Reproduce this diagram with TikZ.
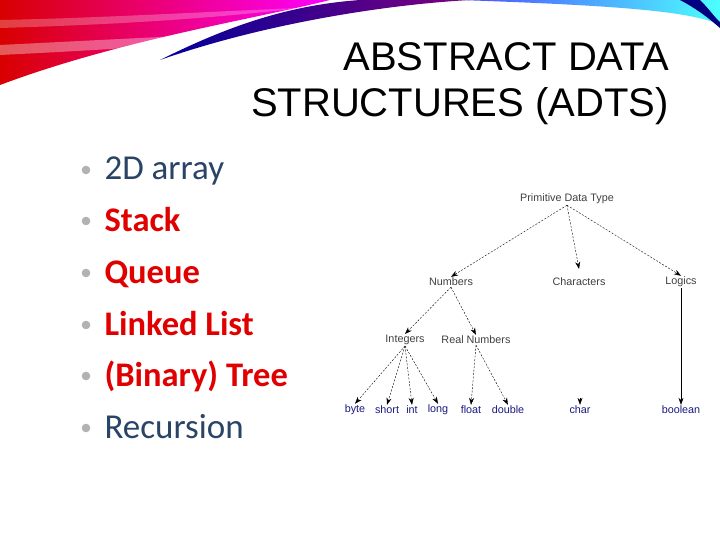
\documentclass[tikz,border=0pt]{standalone}
\usepackage{fontspec}
\setmainfont{Carlito}
\newfontfamily\arialf{Liberation Sans}
\usetikzlibrary{arrows.meta}
\definecolor{bodyblue}{HTML}{2A4466}
\definecolor{bodyred}{HTML}{E00000}
\definecolor{leafblue}{HTML}{1A1A80}
\tikzset{
 tn/.style={font=\arialf\fontsize{10.8}{11}\selectfont, text=black!75, inner sep=1pt},
 leaf/.style={tn, text=leafblue},
 da/.style={dashed, dash pattern=on 2pt off 1.5pt, thin, -{Stealth[length=7pt,width=5pt]}},
 sa/.style={thin, -{Stealth[length=7pt,width=5pt]}},
 bul/.style={anchor=base west, font=\fontsize{35}{37}\selectfont},
 ttl/.style={anchor=base east, font=\arialf\fontsize{40}{42}\selectfont, inner sep=0},
}
\begin{document}
\begin{tikzpicture}[x=1pt,y=-1pt]
\useasboundingbox (0,0) rectangle (720,540);
\fill[white] (0,0) rectangle (720,540);
% banner
\shade[left color=red!85!black, right color=magenta] (0,0) -- (330,0) .. controls (250,20) and (120,40) .. (0,85) -- cycle;
\fill[white, opacity=0.35] (0,45) .. controls (100,40) and (200,35) .. (300,30) .. controls (200,45) and (100,50) .. (0,55) -- cycle;
\fill[white, opacity=0.25] (0,20) .. controls (100,18) and (200,12) .. (300,8) .. controls (200,20) and (100,25) .. (0,28) -- cycle;
\shade[left color=blue!60!black, right color=violet] (160,60) .. controls (230,25) and (290,5) .. (360,0) -- (470,0) .. controls (380,5) and (260,25) .. (160,60) -- cycle;
\shade[left color=blue!70, right color=cyan!70] (460,0) -- (720,0) -- (720,25) .. controls (690,10) and (600,5) .. (460,0) -- cycle;
\fill[blue!50!black] (680,0) -- (700,0) .. controls (710,10) and (715,18) .. (720,22) -- (720,28) .. controls (705,15) and (695,8) .. (680,0);
% title
\node[ttl] (t1) at (669,71) {ABSTRACT DATA};
\node[ttl] (t2) at (669,117) {STRUCTURES (ADTS)};
% bullets
\foreach \y/\t/\c/\b in {170/2D array/bodyblue/0,221/Stack/bodyred/1,273/Queue/bodyred/1,325/Linked List/bodyred/1,376/(Binary) Tree/bodyred/1,428/Recursion/bodyblue/0}{
  \fill[gray!60] (86,\y) circle (4.3);
  \ifnum\b=1 \node[bul, text=\c, font=\fontsize{34.5}{37}\selectfont\bfseries] at (101,\y+10) {\t};
  \else \node[bul, text=\c] at (101,\y+10) {\t}; \fi
}
% tree
\node[tn] (p) at (567,199) {Primitive Data Type};
\node[tn] (n) at (451,282) {Numbers};
\node[tn] (c) at (579,282) {Characters};
\node[tn] (l) at (681,282) {Logics};
\node[tn] (i) at (405,340) {Integers};
\node[tn] (r) at (476,340) {Real Numbers};
\node[leaf] (by) at (355,410) {byte};
\node[leaf] (sh) at (387,410) {short};
\node[leaf] (in) at (412,410) {int};
\node[leaf] (lo) at (438,410) {long};
\node[leaf] (fl) at (471,410) {float};
\node[leaf] (do) at (508,410) {double};
\node[leaf] (ch) at (580,410) {char};
\node[leaf] (bo) at (681,410) {boolean};
\coordinate (chtop) at (580,398);
\draw[da] (p.south) -- (n.north);
\draw[da] (p.south) -- ([yshift=8pt]c.north);
\draw[da] (p.south) -- (l.north);
\draw[da] (n.south) -- (i.north);
\draw[da] (n.south) -- (r.north);
\foreach \x in {by,sh,in,lo} \draw[da] (i.south) -- (\x.north);
\foreach \x in {fl,do} \draw[da] (r.south) -- (\x.north);
\draw[da] (chtop) -- (ch.north);
\draw[sa] (l.south) -- (bo.north);
\end{tikzpicture}
\end{document}
